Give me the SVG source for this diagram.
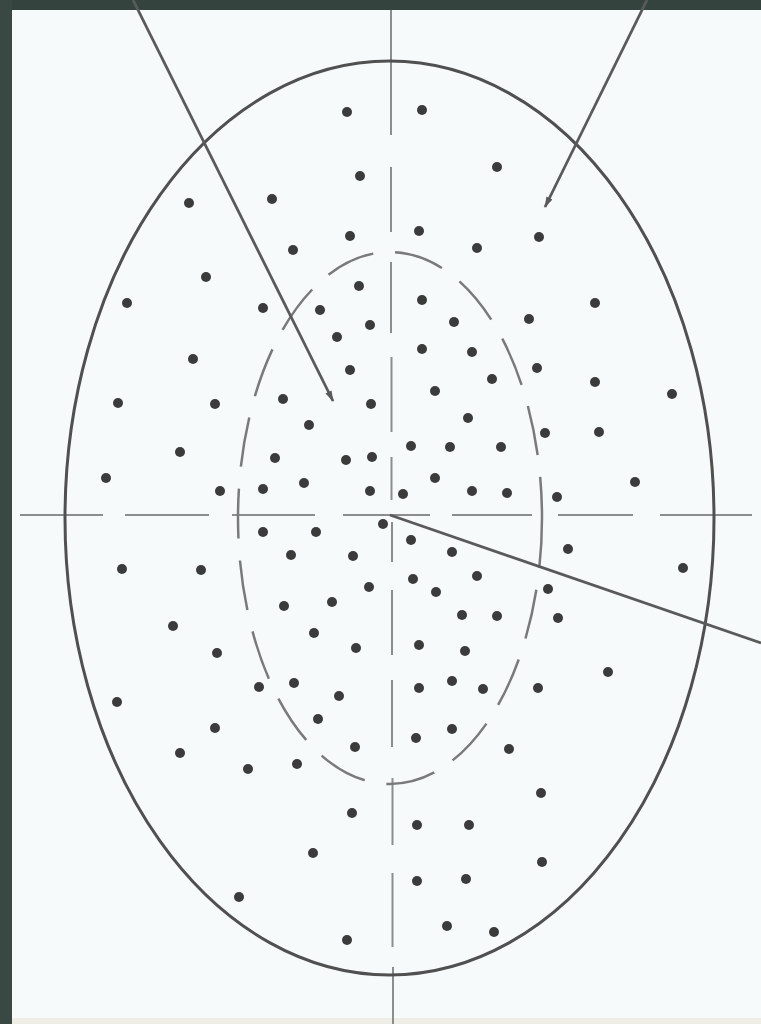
<svg xmlns="http://www.w3.org/2000/svg" width="761" height="1024" viewBox="0 0 761 1024">
<defs>
<style>
.dot{fill:#3b3b3b}
.axis{stroke:#8a8e8e;stroke-width:2;fill:none}
.ptr{stroke:#5a5a5a;stroke-width:2.8;fill:none}
</style>
<marker id="tip" viewBox="0 0 10 6" refX="9" refY="3" markerWidth="4" markerHeight="2.4" orient="auto" markerUnits="strokeWidth">
<path d="M0,0 L10,3 L0,6 z" fill="#5a5a5a"/>
</marker>
</defs>
<rect x="0" y="0" width="761" height="1024" fill="#f7fafb"/>
<rect x="0" y="1018" width="761" height="6" fill="#efeee6"/>
<rect x="0" y="0" width="761" height="10" fill="#34433d"/>
<rect x="0" y="0" width="12" height="1024" fill="#3a4843"/>
<g id="axes">
<path class="axis" d="M20 515 H103 M125 515 H209 M232 515 H315 M343 515 H430 M452 515 H532 M558 515 H633 M660 515 H752"/>
<path class="axis" d="M391 10 V135 M391 167 V232 M391 262 V333 M391.5 357 V432 M391.5 457 V500 M392 522 V562 M392 590 V655 M392 680 V747 M392.5 778 V845 M392.5 873 V947 M393 967 V1024"/>
</g>
<g id="outer-ellipse">
<ellipse cx="389.5" cy="518" rx="324.5" ry="457" fill="none" stroke="#505050" stroke-width="3"/>
</g>
<g id="inner-ellipse">
<ellipse cx="390" cy="518" rx="152" ry="266" fill="none" stroke="#7a7a7a" stroke-width="2.5" stroke-dasharray="50 22"/>
</g>
<g id="dots" class="dot">
<circle cx="347" cy="112" r="5"/><circle cx="422" cy="110" r="5"/><circle cx="360" cy="176" r="5"/><circle cx="497" cy="167" r="5"/>
<circle cx="272" cy="199" r="5"/><circle cx="189" cy="203" r="5"/><circle cx="350" cy="236" r="5"/><circle cx="293" cy="250" r="5"/>
<circle cx="419" cy="231" r="5"/><circle cx="477" cy="248" r="5"/><circle cx="539" cy="237" r="5"/><circle cx="206" cy="277" r="5"/>
<circle cx="127" cy="303" r="5"/><circle cx="263" cy="308" r="5"/><circle cx="320" cy="310" r="5"/><circle cx="359" cy="286" r="5"/>
<circle cx="370" cy="325" r="5"/><circle cx="337" cy="337" r="5"/><circle cx="422" cy="300" r="5"/><circle cx="454" cy="322" r="5"/>
<circle cx="529" cy="319" r="5"/><circle cx="595" cy="303" r="5"/>
<circle cx="193" cy="359" r="5"/><circle cx="118" cy="403" r="5"/><circle cx="215" cy="404" r="5"/><circle cx="283" cy="399" r="5"/>
<circle cx="350" cy="370" r="5"/><circle cx="371" cy="404" r="5"/><circle cx="309" cy="425" r="5"/><circle cx="180" cy="452" r="5"/>
<circle cx="275" cy="458" r="5"/><circle cx="346" cy="460" r="5"/><circle cx="372" cy="457" r="5"/><circle cx="106" cy="478" r="5"/>
<circle cx="220" cy="491" r="5"/><circle cx="263" cy="489" r="5"/><circle cx="304" cy="483" r="5"/><circle cx="370" cy="491" r="5"/>
<circle cx="383" cy="524" r="5"/><circle cx="263" cy="532" r="5"/><circle cx="316" cy="532" r="5"/><circle cx="291" cy="555" r="5"/>
<circle cx="353" cy="556" r="5"/><circle cx="122" cy="569" r="5"/><circle cx="201" cy="570" r="5"/><circle cx="369" cy="587" r="5"/>
<circle cx="284" cy="606" r="5"/><circle cx="332" cy="602" r="5"/><circle cx="173" cy="626" r="5"/><circle cx="314" cy="633" r="5"/>
<circle cx="356" cy="648" r="5"/><circle cx="217" cy="653" r="5"/>
<circle cx="422" cy="349" r="5"/><circle cx="472" cy="352" r="5"/><circle cx="537" cy="368" r="5"/><circle cx="492" cy="379" r="5"/>
<circle cx="595" cy="382" r="5"/><circle cx="672" cy="394" r="5"/><circle cx="435" cy="391" r="5"/><circle cx="468" cy="418" r="5"/>
<circle cx="545" cy="433" r="5"/><circle cx="599" cy="432" r="5"/><circle cx="411" cy="446" r="5"/><circle cx="450" cy="447" r="5"/>
<circle cx="501" cy="447" r="5"/><circle cx="435" cy="478" r="5"/><circle cx="403" cy="494" r="5"/><circle cx="472" cy="491" r="5"/>
<circle cx="507" cy="493" r="5"/><circle cx="557" cy="497" r="5"/><circle cx="635" cy="482" r="5"/><circle cx="411" cy="540" r="5"/>
<circle cx="452" cy="552" r="5"/><circle cx="568" cy="549" r="5"/><circle cx="683" cy="568" r="5"/><circle cx="413" cy="579" r="5"/>
<circle cx="477" cy="576" r="5"/><circle cx="436" cy="592" r="5"/><circle cx="548" cy="589" r="5"/><circle cx="462" cy="615" r="5"/>
<circle cx="497" cy="616" r="5"/><circle cx="558" cy="618" r="5"/><circle cx="419" cy="645" r="5"/><circle cx="465" cy="651" r="5"/>
<circle cx="608" cy="672" r="5"/><circle cx="452" cy="681" r="5"/>
<circle cx="117" cy="702" r="5"/><circle cx="259" cy="687" r="5"/><circle cx="294" cy="683" r="5"/><circle cx="339" cy="696" r="5"/>
<circle cx="215" cy="728" r="5"/><circle cx="318" cy="719" r="5"/><circle cx="180" cy="753" r="5"/><circle cx="248" cy="769" r="5"/>
<circle cx="297" cy="764" r="5"/><circle cx="355" cy="747" r="5"/><circle cx="352" cy="813" r="5"/><circle cx="313" cy="853" r="5"/>
<circle cx="239" cy="897" r="5"/><circle cx="347" cy="940" r="5"/>
<circle cx="419" cy="688" r="5"/><circle cx="483" cy="689" r="5"/><circle cx="538" cy="688" r="5"/><circle cx="416" cy="738" r="5"/>
<circle cx="452" cy="729" r="5"/><circle cx="509" cy="749" r="5"/><circle cx="541" cy="793" r="5"/><circle cx="417" cy="825" r="5"/>
<circle cx="469" cy="825" r="5"/><circle cx="542" cy="862" r="5"/><circle cx="417" cy="881" r="5"/><circle cx="466" cy="879" r="5"/>
<circle cx="447" cy="926" r="5"/><circle cx="494" cy="932" r="5"/>
</g>
<g id="connectors">
<path class="ptr" d="M133 0 L333 401" marker-end="url(#tip)"/>
<path class="ptr" d="M647 0 L545 207" marker-end="url(#tip)"/>
<path class="ptr" d="M390 515 L761 643"/>
</g>
</svg>
